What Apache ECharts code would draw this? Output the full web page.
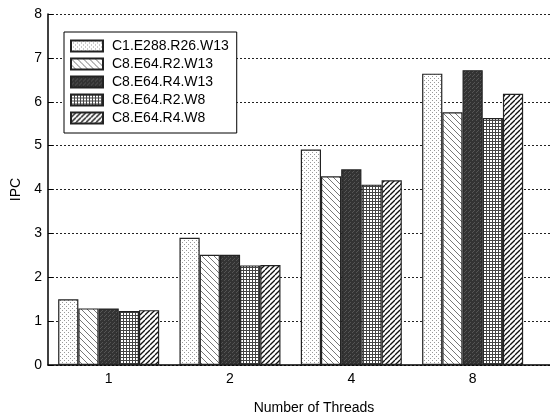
<!DOCTYPE html>
<html>
<head>
<meta charset="utf-8">
<script src="https://cdn.jsdelivr.net/npm/echarts@6/dist/echarts.min.js"></script>
<style>
  html, body { margin: 0; padding: 0; background: #fff; }
  #chart { width: 550px; height: 414px; }
</style>
</head>
<body>
<div id="chart"></div>
<script>
const threads = ['1', '2', '4', '8'];
const seriesNames = ['C1.E288.R26.W13', 'C8.E64.R2.W13', 'C8.E64.R4.W13', 'C8.E64.R2.W8', 'C8.E64.R4.W8'];
const c1E288R26W13 = [1.50, 2.90, 4.91, 6.64];
const c8E64R2W13 = [1.29, 2.51, 4.30, 5.76];
const c8E64R4W13 = [1.29, 2.51, 4.46, 6.72];
const c8E64R2W8 = [1.23, 2.27, 4.11, 5.63];
const c8E64R4W8 = [1.25, 2.28, 4.21, 6.18];

// small canvas fills that mimic the print hatches
function makePattern(size, draw) {
  const cv = document.createElement('canvas');
  cv.width = size;
  cv.height = size;
  const ctx = cv.getContext('2d');
  draw(ctx, size);
  return { image: cv, repeat: 'repeat' };
}

const patterns = [
  makePattern(4, (ctx, s) => {
    ctx.fillStyle = '#fff';
    ctx.fillRect(0, 0, s, s);
    ctx.fillStyle = '#999';
    ctx.fillRect(0, 0, 1, 1);
    ctx.fillRect(2, 2, 1, 1);
  }),
  makePattern(6, (ctx, s) => {
    ctx.fillStyle = '#fff';
    ctx.fillRect(0, 0, s, s);
    ctx.strokeStyle = '#777';
    ctx.lineWidth = 1;
    for (let o = -s; o <= s; o += s) {
      ctx.beginPath();
      ctx.moveTo(o, 0);
      ctx.lineTo(o + s, s);
      ctx.stroke();
    }
  }),
  makePattern(4, (ctx, s) => {
    ctx.fillStyle = '#333';
    ctx.fillRect(0, 0, s, s);
    ctx.fillStyle = '#555';
    ctx.fillRect(0, 0, 1, 1);
    ctx.fillRect(2, 2, 1, 1);
    ctx.fillRect(1, 3, 1, 1);
  }),
  makePattern(3, (ctx, s) => {
    ctx.fillStyle = '#fff';
    ctx.fillRect(0, 0, s, s);
    ctx.fillStyle = '#444';
    ctx.fillRect(0, 0, s, 1);
    ctx.fillRect(0, 0, 1, s);
  }),
  makePattern(5, (ctx, s) => {
    ctx.fillStyle = '#fff';
    ctx.fillRect(0, 0, s, s);
    ctx.strokeStyle = '#111';
    ctx.lineWidth = 1.3;
    for (let o = -s; o <= s; o += s) {
      ctx.beginPath();
      ctx.moveTo(o, s);
      ctx.lineTo(o + s, 0);
      ctx.stroke();
    }
  })
];

const values = [c1E288R26W13, c8E64R2W13, c8E64R4W13, c8E64R2W8, c8E64R4W8];

const series = seriesNames.map((name, i) => ({
  name: name,
  type: 'bar',
  barWidth: 20.2,
  barGap: '0%',
  itemStyle: {
    color: patterns[i],
    borderColor: '#222',
    borderWidth: 1.2
  },
  data: values[i].map((v, j) => [j, v])
}));

const chart = echarts.init(document.getElementById('chart'));
chart.setOption({
  animation: false,
  textStyle: { fontFamily: 'Liberation Sans, Arial, sans-serif' },
  // plot runs past the right edge of the picture, as in the original crop
  grid: { left: 48, right: -30, top: 14, bottom: 49, outerBoundsMode: 'none' },
  legend: {
    orient: 'vertical',
    left: 64,
    top: 32,
    itemWidth: 32,
    itemHeight: 11,
    itemGap: 4,
    padding: [7, 8, 8, 6],
    borderColor: '#000',
    borderWidth: 1,
    backgroundColor: '#fff',
    icon: 'rect',
    textStyle: { fontSize: 14, color: '#000', padding: [0, 0, 0, 4] },
    data: seriesNames
  },
  xAxis: {
    type: 'value',
    min: -0.5,
    max: 3.885,
    name: 'Number of Threads',
    nameLocation: 'middle',
    nameGap: 36,
    nameTextStyle: { fontSize: 14, color: '#000' },
    axisLine: { lineStyle: { color: '#000', width: 1.5 } },
    axisTick: { show: false },
    splitLine: { show: false },
    axisLabel: {
      customValues: [0, 1, 2, 3],
      formatter: (v) => threads[Math.round(v)] || '',
      fontSize: 14,
      color: '#000',
      margin: 7
    }
  },
  yAxis: {
    type: 'value',
    min: 0,
    max: 8,
    interval: 1,
    name: 'IPC',
    nameLocation: 'middle',
    nameGap: 22,
    nameTextStyle: { fontSize: 14, color: '#000' },
    axisLine: { show: true, onZero: false, lineStyle: { color: '#000', width: 1.5 } },
    axisTick: { show: true, inside: true, length: 5, lineStyle: { color: '#000' } },
    axisLabel: { fontSize: 14, color: '#000', margin: 6 },
    splitLine: {
      show: true,
      lineStyle: { color: '#222', type: [2, 2], width: 1 }
    }
  },
  series: series
});
</script>
</body>
</html>
